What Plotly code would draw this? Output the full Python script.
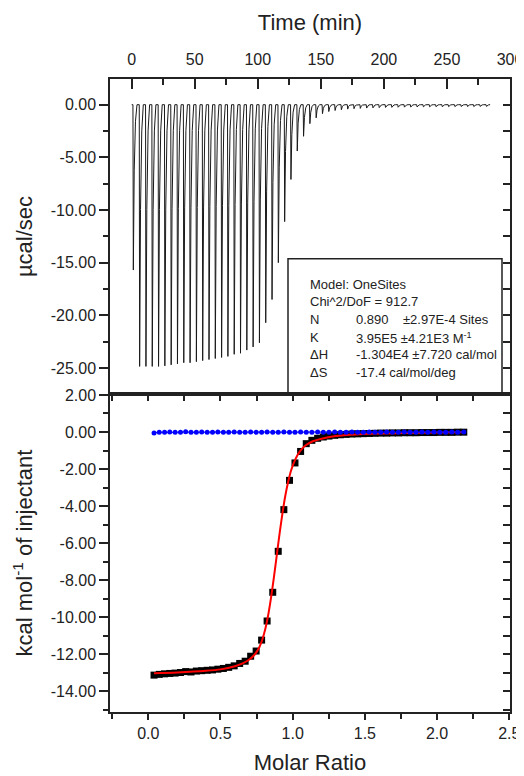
import plotly.graph_objects as go

# ---------------- tick labels ----------------
time_tickvals = [0, 50, 100, 150, 200, 250, 300]
time_ticktext = ["0", "50", "100", "150", "200", "250", "300"]
power_tickvals = [0, -5, -10, -15, -20, -25]
power_ticktext = ["0.00", "-5.00", "-10.00", "-15.00", "-20.00", "-25.00"]
heat_tickvals = [2, 0, -2, -4, -6, -8, -10, -12, -14]
heat_ticktext = ["2.00", "0.00", "-2.00", "-4.00", "-6.00", "-8.00", "-10.00", "-12.00", "-14.00"]
ratio_tickvals = [0, 0.5, 1.0, 1.5, 2.0, 2.5]
ratio_ticktext = ["0.0", "0.5", "1.0", "1.5", "2.0", "2.5"]

# ---------------- raw ITC thermogram ----------------
injection_time = [1, 6, 11, 16, 21, 26, 31, 36, 41, 46, 51, 56, 61, 66, 71, 76, 81, 86, 91, 96,
                  101, 106, 111, 116, 121, 126, 131, 136, 141, 146, 151, 156, 161, 166, 171, 176,
                  181, 186, 191, 196, 201, 206, 211, 216, 221, 226, 231, 236, 241, 246, 251, 256,
                  261, 266, 271, 276, 281]
peak_depth = [-15.7, -24.85, -24.85, -24.85, -24.85, -24.8, -24.7, -24.6, -24.5, -24.5, -24.4,
              -24.3, -24.2, -24.1, -24.0, -23.9, -23.7, -23.6, -23.3, -23.0, -22.6, -20.7, -18.5,
              -15.0, -11.1, -7.1, -4.4, -3.0, -1.8, -1.25, -0.85, -0.65, -0.55, -0.48, -0.42,
              -0.38, -0.35, -0.32, -0.30, -0.28, -0.26, -0.25, -0.24, -0.23, -0.22, -0.21, -0.20,
              -0.20, -0.19, -0.19, -0.18, -0.18, -0.17, -0.17, -0.17, -0.16, -0.16]
baseline_start = 0
baseline_end = 284

# ---------------- integrated heats ----------------
molar_ratio = [0.040, 0.076, 0.113, 0.149, 0.186, 0.223, 0.259, 0.296, 0.333, 0.370, 0.408,
               0.445, 0.482, 0.520, 0.557, 0.595, 0.633, 0.671, 0.709, 0.747, 0.785, 0.823,
               0.862, 0.900, 0.939, 0.978, 1.016, 1.055, 1.094, 1.133, 1.173, 1.212, 1.251,
               1.291, 1.330, 1.370, 1.410, 1.450, 1.490, 1.530, 1.570, 1.610, 1.651, 1.691,
               1.732, 1.773, 1.813, 1.854, 1.895, 1.936, 1.978, 2.019, 2.060, 2.102, 2.143, 2.185]
heat_data = [-13.12, -13.08, -13.05, -13.03, -13.01, -12.98, -12.93, -12.95, -12.90, -12.88,
             -12.86, -12.84, -12.80, -12.76, -12.70, -12.62, -12.49, -12.37, -12.10, -11.82,
             -11.23, -10.20, -8.65, -6.44, -4.19, -2.61, -1.67, -1.05, -0.63, -0.45, -0.34,
             -0.27, -0.22, -0.18, -0.15, -0.13, -0.11, -0.10, -0.09, -0.08, -0.07, -0.06, -0.06,
             -0.05, -0.05, -0.04, -0.04, -0.04, -0.03, -0.03, -0.03, -0.02, -0.02, -0.02, -0.01,
             -0.01]
dilution_heat = [-0.05, -0.01, -0.02, 0.00, -0.02, -0.01, 0.01, -0.02, -0.01, 0.00, -0.02,
                 -0.01, 0.00, -0.01, -0.02, 0.00, -0.01, -0.01, 0.00, -0.02, -0.01, 0.00, -0.01,
                 -0.02, 0.00, -0.01, -0.01, 0.00, -0.02, -0.01, 0.00, -0.01, -0.01, 0.00, -0.02,
                 -0.01, 0.00, -0.01, -0.01, 0.00, -0.01, -0.02, 0.00, -0.01, -0.01, 0.00, -0.01,
                 -0.02, 0.00, -0.01, 0.00, -0.01, -0.01, 0.00, -0.01, 0.00]
fit_ratio = [0.04, 0.2, 0.4, 0.5, 0.6, 0.65, 0.7, 0.74, 0.77, 0.79, 0.81, 0.83, 0.85, 0.87,
             0.89, 0.91, 0.93, 0.95, 0.97, 0.99, 1.02, 1.05, 1.09, 1.14, 1.2, 1.3, 1.4, 1.6,
             1.8, 2.0, 2.185]
fit_heat = [-13.02, -12.98, -12.89, -12.81, -12.64, -12.50, -12.28, -11.98, -11.6, -11.2,
            -10.65, -9.9, -8.95, -7.85, -6.65, -5.45, -4.35, -3.4, -2.65, -2.05, -1.45, -1.05,
            -0.72, -0.5, -0.36, -0.22, -0.15, -0.08, -0.05, -0.03, -0.02]

# ---------------- fit report ----------------
report_lines = ["Model: OneSites", "Chi^2/DoF = 912.7"]
param_names = ["N", "K", "ΔH", "ΔS"]
param_values = ["0.890\u00a0\u00a0\u00a0\u00a0±2.97E-4 Sites",
                "3.95E5 ±4.21E3 M<sup>-1</sup>",
                "-1.304E4 ±7.720 cal/mol",
                "-17.4 cal/mol/deg"]

# peak shape (style): offsets in minutes and fraction of depth
shape_dt = [0.0, 0.3, 1.0, 2.0, 3.2]
shape_frac = [0.0, 1.0, 0.4, 0.1, 0.0]

raw_t = [baseline_start]
raw_p = [0.0]
for t, d in zip(injection_time, peak_depth):
    for dt, f in zip(shape_dt, shape_frac):
        raw_t.append(t + dt)
        raw_p.append(d * f)
raw_t.append(baseline_end)
raw_p.append(0.0)

FONT = "Liberation Sans, Arial, sans-serif"
LINE = "#222222"

# page layout (browser body margin of 8 px is compensated)
OFF = 8
W, H = 524, 768
FRAME_L, FRAME_R, FRAME_T, FRAME_B, FRAME_MID = 110, 510, 79, 712, 394
ML = FRAME_L - OFF
MR = W - (FRAME_R - OFF)
MT = FRAME_T - OFF
MB = H - (FRAME_B - OFF)
PW, PH = W - ML - MR, H - MT - MB
split = (FRAME_B - FRAME_MID) / PH

fig = go.Figure()
fig.add_trace(go.Scatter(x=raw_t, y=raw_p, mode="lines", line=dict(color="#1a1a1a", width=1),
                         xaxis="x", yaxis="y", showlegend=False, hoverinfo="skip"))
fig.add_trace(go.Scatter(x=molar_ratio, y=heat_data, mode="markers",
                         marker=dict(symbol="square", size=7, color="black"),
                         xaxis="x2", yaxis="y2", showlegend=False))
fig.add_trace(go.Scatter(x=fit_ratio, y=fit_heat, mode="lines",
                         line=dict(color="#ff0000", width=2, shape="spline", smoothing=0.8),
                         xaxis="x2", yaxis="y2", showlegend=False))
fig.add_trace(go.Scatter(x=molar_ratio, y=dilution_heat, mode="lines+markers",
                         line=dict(color="#0000ff", width=1),
                         marker=dict(symbol="circle", size=5, color="#0000ff"),
                         xaxis="x2", yaxis="y2", showlegend=False))
# helper traces so the mirrored inner-tick axes are drawn
fig.add_trace(go.Scatter(x=[None], y=[None], xaxis="x3", yaxis="y2", showlegend=False))
fig.add_trace(go.Scatter(x=[None], y=[None], xaxis="x2", yaxis="y3", showlegend=False))
fig.add_trace(go.Scatter(x=[None], y=[None], xaxis="x", yaxis="y4", showlegend=False))

tickfont = dict(family=FONT, size=16, color="#222")
titlefont = dict(family=FONT, size=22, color="#222")
common = dict(showgrid=False, zeroline=False, tickcolor=LINE, tickwidth=1.5,
              tickfont=tickfont, automargin=False)
framed = dict(showline=True, mirror=True, linecolor=LINE, linewidth=1.5)

time_range = [-17.2, 300.01]
power_range = [-27.47, 2.44]
ratio_range = [-0.265, 2.505]
heat_range = [-15.11, 2.05]

fig.update_layout(
    width=W, height=H,
    margin=dict(l=ML, r=MR, t=MT, b=MB),
    paper_bgcolor="white", plot_bgcolor="white",
    xaxis=dict(domain=[0, 1], anchor="y", side="top", range=time_range,
               tickmode="array", tickvals=time_tickvals, ticktext=time_ticktext,
               ticks="inside", ticklen=10, ticklabelstandoff=6, ticklabeloverflow="allow",
               minor=dict(tickmode="linear", tick0=0, dtick=25, ticks="inside", ticklen=6,
                          tickcolor=LINE, tickwidth=1.5),
               title=dict(text="Time (min)", font=titlefont, standoff=14), **common, **framed),
    yaxis=dict(domain=[split, 1], anchor="x", range=power_range,
               tickmode="array", tickvals=power_tickvals, ticktext=power_ticktext,
               ticks="outside", ticklen=9,
               minor=dict(tickmode="linear", tick0=0, dtick=2.5, ticks="outside", ticklen=5,
                          tickcolor=LINE, tickwidth=1.5),
               title=dict(text="µcal/sec", font=titlefont, standoff=12), **common, **framed),
    xaxis2=dict(domain=[0, 1], anchor="y2", side="bottom", range=ratio_range,
                tickmode="array", tickvals=ratio_tickvals, ticktext=ratio_ticktext,
                ticks="outside", ticklen=6, ticklabelstandoff=0, ticklabeloverflow="allow",
                minor=dict(tickmode="linear", tick0=0, dtick=0.25, ticks="outside", ticklen=5,
                           tickcolor=LINE, tickwidth=1.5),
                title=dict(text="Molar Ratio", font=titlefont, standoff=14), **common, **framed),
    yaxis2=dict(domain=[0, split], anchor="x2", range=heat_range,
                tickmode="array", tickvals=heat_tickvals, ticktext=heat_ticktext,
                ticks="outside", ticklen=9,
                minor=dict(tickmode="linear", tick0=0, dtick=1, ticks="outside", ticklen=5,
                           tickcolor=LINE, tickwidth=1.5),
                title=dict(text="kcal mol<sup>-1</sup> of injectant", font=titlefont, standoff=12),
                **common, **framed),
    xaxis3=dict(overlaying="x2", anchor="y2", side="top", range=ratio_range,
                tickmode="linear", tick0=0, dtick=0.25, ticks="inside", ticklen=7,
                showticklabels=False, showline=False, **common),
    yaxis3=dict(overlaying="y2", anchor="x2", side="right", range=heat_range,
                tickmode="linear", tick0=0, dtick=1, ticks="inside", ticklen=7,
                showticklabels=False, showline=False, **common),
    yaxis4=dict(overlaying="y", anchor="x", side="right", range=power_range,
                tickmode="linear", tick0=0, dtick=2.5, ticks="inside", ticklen=7,
                showticklabels=False, showline=False, **common),
)

# fit-report box
fig.add_shape(type="rect", xref="x domain", yref="y domain", x0=0.445, x1=0.98, y0=0, y1=0.4295,
              line=dict(color=LINE, width=1.5), fillcolor="rgba(0,0,0,0)")


def px_to_paper(px, py):
    # page pixel coordinates -> paper coordinates
    return (px - FRAME_L) / PW, (FRAME_B - py) / PH


row_y = [284.3, 301.7, 319.0, 337.5, 354.8, 372.0]
small = dict(family=FONT, size=13, color="#222")
for i, txt in enumerate(report_lines):
    xp, yp = px_to_paper(308, row_y[i])
    fig.add_annotation(x=xp, y=yp, xref="paper", yref="paper", text=txt, showarrow=False,
                       xanchor="left", yanchor="middle", font=small)
for j, (nm, val) in enumerate(zip(param_names, param_values)):
    xp, yp = px_to_paper(308, row_y[j + 2])
    fig.add_annotation(x=xp, y=yp, xref="paper", yref="paper", text=nm, showarrow=False,
                       xanchor="left", yanchor="middle", font=small)
    xp, yp = px_to_paper(354, row_y[j + 2])
    fig.add_annotation(x=xp, y=yp, xref="paper", yref="paper", text=val, showarrow=False,
                       xanchor="left", yanchor="middle", font=small)

fig.write_html("out.html")
